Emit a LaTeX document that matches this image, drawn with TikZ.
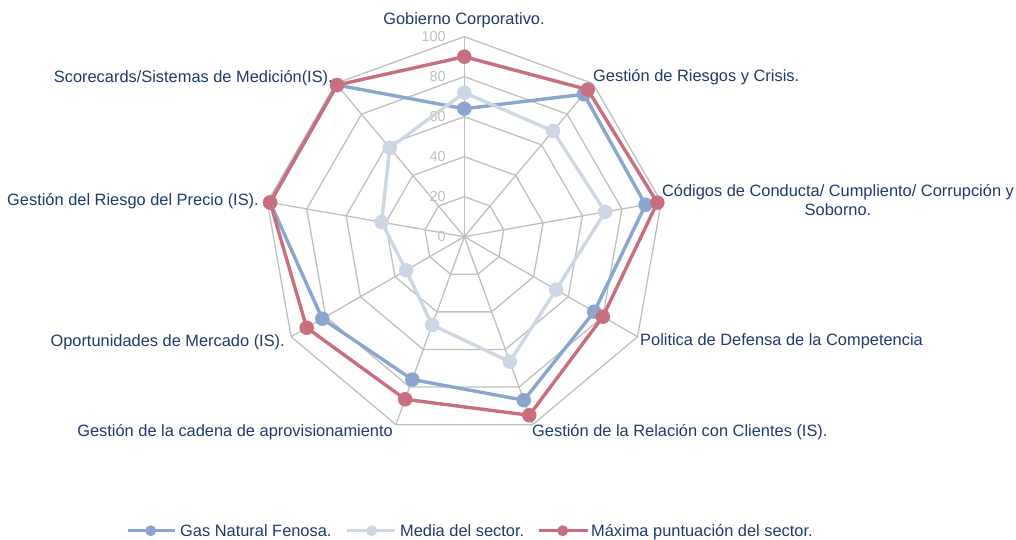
\documentclass[tikz,border=0pt]{standalone}
\usepackage{fontspec}
\setmainfont{Liberation Sans}
\usetikzlibrary{calc}
\definecolor{lbl}{HTML}{1D3A6B}
\definecolor{gridc}{HTML}{BFBFBF}
\definecolor{gasc}{HTML}{8AA6CF}
\definecolor{medc}{HTML}{CDD7E4}
\definecolor{maxc}{HTML}{C76E7F}
\begin{document}
\begin{tikzpicture}[x=1pt,y=-1pt,
  lab/.style={text=lbl,font=\fontsize{16.4}{18.3}\selectfont,inner sep=0pt},
  tick/.style={text=gridc,font=\fontsize{14.5}{16}\selectfont,inner sep=0pt,anchor=east},
  gridline/.style={draw=gridc,line width=1.3pt},
  ser/.style={line width=3.4pt,line join=round},
  mk/.style={circle,fill=#1,draw=none,inner sep=0pt,minimum size=14.5pt},
  lmk/.style={circle,fill=#1,draw=none,inner sep=0pt,minimum size=11pt},
  lline/.style={line width=3.3pt,draw=#1}]
\useasboundingbox (0,0) rectangle (1016,539);
\coordinate (C) at (464.3,236.7);
% grid rings
\foreach \r in {40,80,120,160,200} {
  \draw[gridline] ($(C)+(90:\r pt)$) \foreach \k in {1,...,8}{ -- ($(C)+(90-40*\k:\r pt)$)} -- cycle;
}
% spokes
\foreach \k in {0,...,8} {
  \draw[gridline] (C) -- ($(C)+(90-40*\k:200pt)$);
}
% tick labels
\foreach \v/\yy in {0/236.7,20/196.7,40/156.7,60/116.7,80/76.7,100/36.7} {
  \node[tick] (t\v) at (446,\yy) {\v};
}
% series: Gas Natural
\foreach \v [count=\i from 0] in {64,93,92,75,87,76,82,98.6,99} {
  \coordinate (g\i) at ($(C)+(90-40*\i:{2*\v pt})$);
}
\draw[ser,gasc] (g0) -- (g1) -- (g2) -- (g3) -- (g4) -- (g5) -- (g6) -- (g7) -- (g8) -- cycle;
\foreach \i in {0,...,8} { \node[mk=gasc] (gm\i) at (g\i) {}; }
% series: Media
\foreach \v [count=\i from 0] in {72,69,71.5,53,66.5,47,33.6,42,58} {
  \coordinate (m\i) at ($(C)+(90-40*\i:{2*\v pt})$);
}
\draw[ser,medc] (m0) -- (m1) -- (m2) -- (m3) -- (m4) -- (m5) -- (m6) -- (m7) -- (m8) -- cycle;
\foreach \i in {0,...,8} { \node[mk=medc] (mm\i) at (m\i) {}; }
% series: Maxima
\foreach \v [count=\i from 0] in {90,96,98,80,95,86.5,91,98.6,99} {
  \coordinate (x\i) at ($(C)+(90-40*\i:{2*\v pt})$);
}
\draw[ser,maxc] (x0) -- (x1) -- (x2) -- (x3) -- (x4) -- (x5) -- (x6) -- (x7) -- (x8) -- cycle;
\foreach \i in {0,...,8} { \node[mk=maxc] (xm\i) at (x\i) {}; }
% axis labels
\node[lab,anchor=base] (l0) at (464,24) {Gobierno Corporativo.};
\node[lab,anchor=base west] (l1) at (593,81.7) {Gestión de Riesgos y Crisis.};
\node[lab,anchor=base,align=center] (l2) at (838,215) {Códigos de Conducta/ Cumpliento/ Corrupción y\\Soborno.};
\node[lab,anchor=base west] (l3) at (640,345) {Politica de Defensa de la Competencia};
\node[lab,anchor=base west] (l4) at (532,436.7) {Gestión de la Relación con Clientes (IS).};
\node[lab,anchor=base east] (l5) at (393,436.7) {Gestión de la cadena de aprovisionamiento};
\node[lab,anchor=base east] (l6) at (285,346) {Oportunidades de Mercado (IS).};
\node[lab,anchor=base east] (l7) at (259,205.7) {Gestión del Riesgo del Precio (IS).};
\node[lab,anchor=base east] (l8) at (333,82.7) {Scorecards/Sistemas de Medición(IS).};
% legend
\coordinate (la1) at (128,530.7); \coordinate (lb1) at (175,530.7);
\draw[lline=gasc] (la1) -- (lb1);
\node[lmk=gasc] (lm1) at (150.7,530.7) {};
\node[lab,anchor=base west] (lt1) at (180,536) {Gas Natural Fenosa.};
\coordinate (la2) at (347,530.7); \coordinate (lb2) at (395,530.7);
\draw[lline=medc] (la2) -- (lb2);
\node[lmk=medc] (lm2) at (371.7,530.7) {};
\node[lab,anchor=base west] (lt2) at (400,536) {Media del sector.};
\coordinate (la3) at (539,530.7); \coordinate (lb3) at (588,530.7);
\draw[lline=maxc] (la3) -- (lb3);
\node[lmk=maxc] (lm3) at (562.7,530.7) {};
\node[lab,anchor=base west] (lt3) at (591,536) {Máxima puntuación del sector.};
\end{tikzpicture}
\end{document}
